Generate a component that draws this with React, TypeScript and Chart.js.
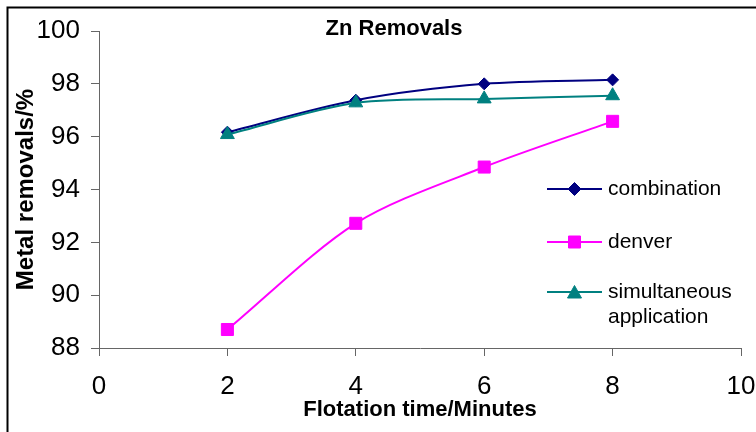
import React, { useEffect, useRef } from "react";
import { Chart, registerables } from "chart.js";

Chart.register(...registerables);

const chartTitle = "Zn Removals";
const xTitle = "Flotation time/Minutes";
const yTitle = "Metal removals/%";
const times = [2, 4, 6, 8];
const combination = [96.17, 97.38, 98.0, 98.15];
const denver = [88.7, 92.72, 94.85, 96.58];
const simultaneous = [96.08, 97.28, 97.43, 97.55];
const seriesNames = ["combination", "denver", "simultaneous application"];
const xTicks = [0, 10, 2];
const yTicks = [88, 100, 2];

const FONT = "'Liberation Sans', Arial, sans-serif";
const NAVY = "#000080";
const MAGENTA = "#FF00FF";
const TEAL = "#008080";

function drawMarker(ctx: CanvasRenderingContext2D, kind: string, x: number, y: number, color: string) {
  ctx.save();
  ctx.fillStyle = color;
  ctx.strokeStyle = color;
  ctx.lineWidth = 1;
  ctx.beginPath();
  if (kind === "diamond") {
    const r = 6.5;
    ctx.moveTo(x - r, y);
    ctx.lineTo(x, y - r);
    ctx.lineTo(x + r, y);
    ctx.lineTo(x, y + r);
    ctx.closePath();
  } else if (kind === "square") {
    const h = 6;
    ctx.rect(x - h, y - h, 2 * h, 2 * h);
  } else {
    const w = 7;
    ctx.moveTo(x, y - 6.5);
    ctx.lineTo(x + w, y + 6);
    ctx.lineTo(x - w, y + 6);
    ctx.closePath();
  }
  ctx.fill();
  ctx.stroke();
  ctx.restore();
}

const decorPlugin = {
  id: "decor",
  afterDraw(chart: any) {
    const ctx: CanvasRenderingContext2D = chart.ctx;
    const area = chart.chartArea;
    ctx.save();
    // outer frame (top and left edges visible)
    ctx.strokeStyle = "#000";
    ctx.lineWidth = 2;
    ctx.beginPath();
    ctx.moveTo(7.5, chart.height);
    ctx.lineTo(7.5, 7.5);
    ctx.lineTo(chart.width, 7.5);
    ctx.stroke();
    // title
    ctx.fillStyle = "#000";
    ctx.font = `bold 22px ${FONT}`;
    ctx.textAlign = "center";
    ctx.textBaseline = "alphabetic";
    ctx.fillText(chartTitle, area.left + 295, 35);
    // legend
    const lx0 = area.left + 448;
    const lx1 = area.left + 503;
    const tx = area.left + 509;
    const items = [
      { color: NAVY, kind: "diamond", y: 189, lines: [seriesNames[0]] },
      { color: MAGENTA, kind: "square", y: 242, lines: [seriesNames[1]] },
      { color: TEAL, kind: "triangle", y: 292, lines: ["simultaneous", "application"] },
    ];
    ctx.font = `21px ${FONT}`;
    ctx.textAlign = "left";
    ctx.textBaseline = "middle";
    for (const it of items) {
      ctx.strokeStyle = it.color;
      ctx.lineWidth = 2;
      ctx.beginPath();
      ctx.moveTo(lx0, it.y);
      ctx.lineTo(lx1, it.y);
      ctx.stroke();
      drawMarker(ctx, it.kind, (lx0 + lx1) / 2, it.y, it.color);
      ctx.fillStyle = "#000";
      it.lines.forEach((t, i) => ctx.fillText(t, tx, it.y + i * 25.5));
    }
    ctx.restore();
  },
};

export default function App() {
  const ref = useRef<HTMLCanvasElement | null>(null);
  useEffect(() => {
    if (!ref.current) return;
    const mk = (arr: number[]) => times.map((t, i) => ({ x: t, y: arr[i] }));
    const chart = new Chart(ref.current, {
      type: "line",
      data: {
        datasets: [
          {
            label: seriesNames[0],
            data: mk(combination),
            borderColor: NAVY,
            backgroundColor: NAVY,
            borderWidth: 2,
            pointStyle: "rectRot",
            pointRadius: 6,
            pointBorderWidth: 1,
            tension: 0.3,
            order: 2,
          },
          {
            label: seriesNames[1],
            data: mk(denver),
            borderColor: MAGENTA,
            backgroundColor: MAGENTA,
            borderWidth: 2,
            pointStyle: "rect",
            pointRadius: 8.5,
            pointBorderWidth: 1,
            tension: 0.3,
            order: 1,
          },
          {
            label: seriesNames[2],
            data: mk(simultaneous),
            borderColor: TEAL,
            backgroundColor: TEAL,
            borderWidth: 2,
            pointStyle: "triangle",
            pointRadius: 8,
            pointBorderWidth: 1,
            tension: 0.3,
            order: 0,
          },
        ],
      },
      options: {
        animation: false,
        responsive: false,
        devicePixelRatio: 1,
        layout: { padding: { top: 31, right: 15, left: 0, bottom: 0 } },
        plugins: { legend: { display: false }, tooltip: { enabled: false }, title: { display: false } },
        scales: {
          x: {
            type: "linear",
            min: xTicks[0],
            max: xTicks[1],
            ticks: { stepSize: xTicks[2], color: "#000", font: { family: FONT, size: 26 }, padding: 15, maxRotation: 0 },
            grid: { drawOnChartArea: false, drawTicks: true, tickLength: 8, color: "#666", tickColor: "#666" },
            border: { display: true, color: "#666", width: 1 },
            title: {
              display: true,
              text: xTitle,
              color: "#000",
              font: { family: FONT, size: 22, weight: "bold" },
              padding: { top: 0, bottom: 9 },
            },
            afterFit: (s: any) => {
              s.height = 84;
              s.paddingLeft = 0;
              s.paddingRight = 0;
            },
          },
          y: {
            type: "linear",
            min: yTicks[0],
            max: yTicks[1],
            ticks: { stepSize: yTicks[2], color: "#000", font: { family: FONT, size: 26 }, padding: 11 },
            grid: { drawOnChartArea: false, drawTicks: true, tickLength: 8, color: "#666", tickColor: "#666" },
            border: { display: true, color: "#666", width: 1 },
            title: {
              display: true,
              text: yTitle,
              color: "#000",
              font: { family: FONT, size: 24, weight: "bold" },
              padding: { top: 12, bottom: 0 },
            },
            afterFit: (s: any) => {
              s.width = 99;
              s.paddingTop = 0;
              s.paddingBottom = 0;
            },
          },
        },
      },
      plugins: [decorPlugin],
    } as any);
    return () => chart.destroy();
  }, []);
  return (
    <div style={{ position: "absolute", left: 0, top: 0, width: 756, height: 432, background: "#fff" }}>
      <canvas ref={ref} width={756} height={432} style={{ display: "block" }} />
    </div>
  );
}
